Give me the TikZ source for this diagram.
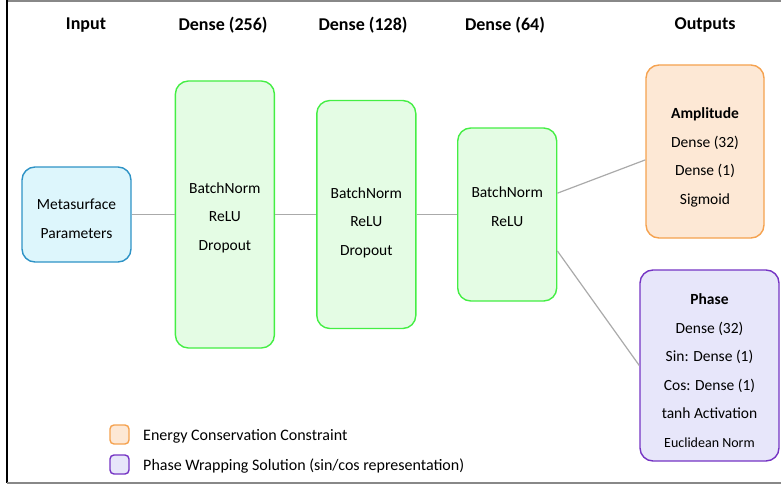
\documentclass[tikz,border=0pt]{standalone}
\usepackage{fontspec}
\setmainfont{Carlito}
\usetikzlibrary{positioning}
\definecolor{inpfill}{HTML}{DDF6FC}
\definecolor{inpdraw}{HTML}{2E93C6}
\definecolor{densefill}{HTML}{E4FCE4}
\definecolor{densedraw}{HTML}{44EE44}
\definecolor{ampfill}{HTML}{FDE8D5}
\definecolor{ampdraw}{HTML}{F5A24F}
\definecolor{phfill}{HTML}{E7E6FA}
\definecolor{phdraw}{HTML}{7534C4}
\definecolor{linkgray}{HTML}{AAAAAA}
\newcommand\padtop[1]{\rule{0pt}{#1}}

\begin{document}
\begin{tikzpicture}[
  x=1pt, y=-1pt,
  node distance=43pt,
  hdr/.style ={font=\fontsize{18}{20}\selectfont\bfseries},
  box/.style ={rounded corners=13pt, line width=1.4pt, align=center, font=\fontsize{15.5}{28.5}\selectfont},
  layer/.style={box, draw=densedraw, fill=densefill, minimum width=99pt},
  tup/.style  ={execute at end node={\rule[-#1]{0pt}{0pt}}},
  link/.style ={draw=linkgray, line width=1.2pt},
  key/.style  ={rounded corners=4pt, line width=1.4pt, minimum size=19pt, inner sep=0pt},
  keytxt/.style={anchor=west, yshift=-1.5pt, font=\fontsize{16}{18}\selectfont},
]
  \useasboundingbox (0,0) rectangle (781,484);
  % frame
  \draw[linkgray!80!black, line width=1.5pt] (7,1) -- (781,1);
  \draw[black, line width=1.5pt] (7,0) -- (7,483);
  \draw[linkgray!80!black, line width=2pt] (7,483) -- (781,483);

  % column titles
  \node[hdr] (tin)  at (86,25)  {Input};
  \node[hdr] (t256) at (223,25) {Dense (256)};
  \node[hdr] (t128) at (363,25) {Dense (128)};
  \node[hdr] (t64)  at (505,25) {Dense (64)};
  \node[hdr] (tout) at (705,25) {Outputs};

  % layers
  \node[box, draw=inpdraw, fill=inpfill, minimum width=109pt, minimum height=95pt] (inp) at (76.5,214.5)
       {\padtop{19pt}Metasurface\\Parameters};
  \node[layer, minimum height=267pt, right=of inp]     (d256) {\padtop{17pt}BatchNorm\\ReLU\\Dropout};
  \node[layer, minimum height=228pt, right=41pt of d256] (d128) {\padtop{27pt}BatchNorm\\ReLU\\Dropout};
  \node[layer, tup=16pt, minimum height=173pt, right=40.5pt of d128] (d64) {BatchNorm\\ReLU};

  % output heads
  \node[box, draw=ampdraw, fill=ampfill, minimum width=118pt, minimum height=173pt] (amp) at (705,151.5)
       {\padtop{23pt}\textbf{Amplitude}\\Dense (32)\\Dense (1)\\Sigmoid};
  \node[box, draw=phdraw, fill=phfill, minimum width=139pt, minimum height=191pt] (phase) at (709.5,365.5)
       {\padtop{21pt}\textbf{Phase}\\Dense (32)\\Sin: Dense (1)\\Cos: Dense (1)\\tanh Activation\\{\fontsize{14}{28.5}\selectfont Euclidean Norm}};

  \draw[link] (inp)  -- (d256);
  \draw[link] (d256) -- (d128);
  \draw[link] (d128) -- (d64);
  \draw[link] (d64.23.5) -- (amp.188);
  \draw[link] (d64.-36)  -- (phase.west);

  % legend
  \node[key, draw=ampdraw, fill=ampfill] (kamp) at (119.5,434.5) {};
  \node[keytxt, right=10pt of kamp] (lamp) {Energy Conservation Constraint};
  \node[key, draw=phdraw, fill=phfill] (kph) at (119.5,464.5) {};
  \node[keytxt, right=10pt of kph] (lph) {Phase Wrapping Solution (sin/cos representation)};
\end{tikzpicture}
\end{document}
